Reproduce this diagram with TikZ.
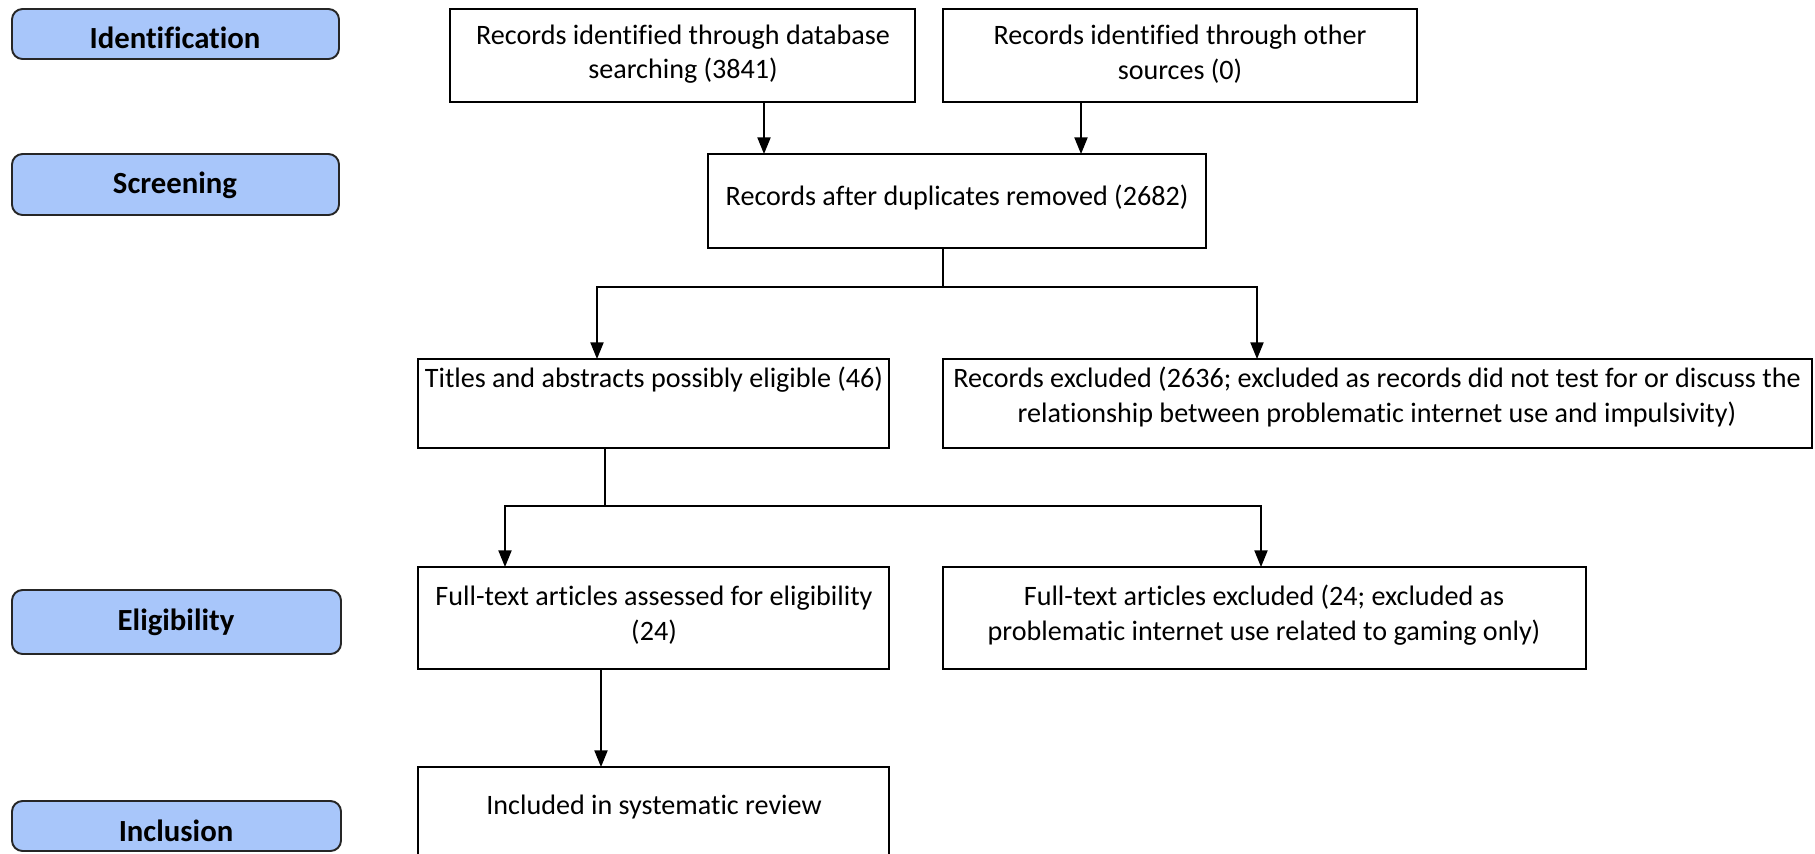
\documentclass[tikz,border=0pt]{standalone}
\usepackage{fontspec}
\setmainfont[Ligatures=NoCommon]{Carlito}
\usepackage{xcolor}
\definecolor{stageblue}{RGB}{168, 198, 250}
\usetikzlibrary{arrows.meta, positioning, fit}

\begin{document}
\begin{tikzpicture}[
    x=0.02cm, y=-0.02cm,
    stage/.style={draw=black!85, line width=1.1pt, fill=stageblue, rounded corners=6pt, inner sep=0pt},
    stagetext/.style={font=\fontsize{17.5}{21}\selectfont\bfseries, inner sep=0pt},
    record/.style={draw, line width=1.1pt, inner sep=0pt},
    recordtext/.style={align=center, font=\fontsize{16}{19.7}\selectfont, inner sep=0pt},
    arrow/.style={-{Triangle[length=9.5pt, width=7.5pt]}, line width=0.9pt},
    link/.style={line width=0.9pt}
]
    \useasboundingbox (0,0) rectangle (1815,853);
    \clip (0,0) rectangle (1815,853);

    % Stages
    \node[stage, fit={(12,9) (339,59)}] (ident) {};
    \node[stage, fit={(12,154) (339,215)}] (screen) {};
    \node[stage, fit={(12,590) (341,654)}] (elig) {};
    \node[stage, fit={(12,801) (341,851)}] (incl) {};
    \node[stagetext] (identtxt) at (175,38) {Identification};
    \node[stagetext] (screentxt) at (175,185) {Screening};
    \node[stagetext] (eligtxt) at (176,622) {Eligibility};
    \node[stagetext] (incltxt) at (176,831) {Inclusion};

    % Records
    \node[record, fit={(450,9) (915,102)}] (db) {};
    \node[record, fit={(943,9) (1417,102)}] (other) {};
    \node[record, fit={(708,154) (1206,248)}] (dup) {};
    \node[record, fit={(418,359) (889,448)}] (titles) {};
    \node[record, fit={(943,359) (1812,448)}] (recexcl) {};
    \node[record, fit={(418,567) (889,669)}] (ftin) {};
    \node[record, fit={(943,567) (1586,669)}] (ftout) {};
    \node[record, fit={(418,767) (889,880)}] (review) {};

    \node[recordtext] (dbtxt) at (683,54) {Records identified through database\\searching (3841)};
    \node[recordtext] (othertxt) at (1180,54) {Records identified through other\\sources (0)};
    \node[recordtext] (duptxt) at (957,197) {Records after duplicates removed (2682)};
    \node[recordtext] (titlestxt) at (654,380) {Titles and abstracts possibly eligible (46)};
    \node[recordtext] (recexcltxt) at (1377,397) {Records excluded (2636; excluded as records did not test for or discuss the\\relationship between problematic internet use and impulsivity)};
    \node[recordtext] (ftintxt) at (654,615) {Full-text articles assessed for eligibility\\(24)};
    \node[recordtext] (ftouttxt) at (1264,615) {Full-text articles excluded (24; excluded as\\problematic internet use related to gaming only)};
    \node[recordtext] (reviewtxt) at (654,807) {Included in systematic review};

    % Connectors
    \coordinate (a1) at (764,154);
    \coordinate (a2) at (1081,154);
    \draw[arrow] (db.south -| a1) -- (a1);
    \draw[arrow] (other.south -| a2) -- (a2);

    \coordinate (j1) at (943,287);
    \coordinate (b1) at (597,359);
    \coordinate (b2) at (1257,359);
    \draw[link] (dup.south -| j1) -- (j1);
    \draw[arrow] (j1) -| (b1);
    \draw[arrow] (j1) -| (b2);

    \coordinate (j2) at (605,506);
    \coordinate (c1) at (505,567);
    \coordinate (c2) at (1261,567);
    \draw[link] (titles.south -| j2) -- (j2);
    \draw[arrow] (j2) -| (c1);
    \draw[arrow] (j2) -| (c2);

    \coordinate (d1) at (601,767);
    \draw[arrow] (ftin.south -| d1) -- (d1);
\end{tikzpicture}
\end{document}
